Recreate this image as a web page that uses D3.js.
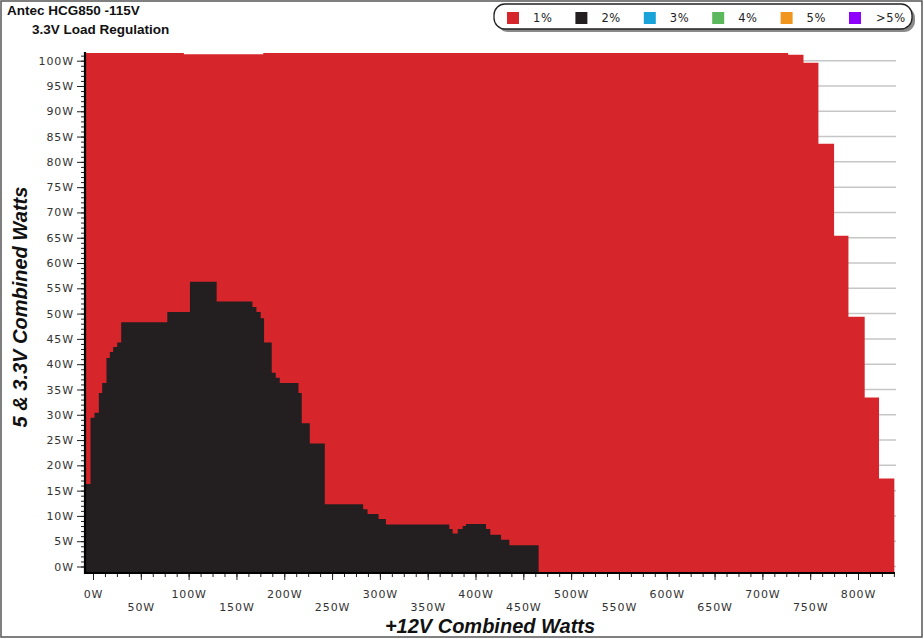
<!DOCTYPE html>
<html>
<head>
<meta charset="utf-8">
<script src="https://cdn.jsdelivr.net/npm/d3@7/dist/d3.min.js"></script>
<style>
  html, body { margin: 0; padding: 0; background: #fff; }
  svg { display: block; }
</style>
</head>
<body>
<svg id="chart" width="924" height="639"></svg>
<script>
// ---------------- DATA ----------------
const titleLines = ["Antec HCG850 -115V", "3.3V Load Regulation"];
const legendLabels = ["1%", "2%", "3%", "4%", "5%", ">5%"];
const legendColors = ["#d7262b", "#231f20", "#1aa3d9", "#5cb85c", "#f0961e", "#9000ff"];

// Upper boundary of the 1% region (step starts: +12V watts, 5&3.3V watts)
const redX = [-8, 95, 178, 727, 743, 758.6, 775, 790, 807, 822, 838];
const redY = [101.5, 101.3, 101.5, 101.2, 99.6, 83.6, 65.4, 49.4, 33.4, 17.4, 17.4];

// Upper boundary of the 2% region
const blackX = [-8, -2.6, 1.6, 6.1, 9.6, 14.1, 17.6, 21.1, 25.3, 29.5, 77.7, 101.4, 129.3,
  166.7, 170.9, 175.4, 178.9, 186.9, 191.1, 195.3, 214.9, 218.3, 226.7, 242.4, 282.5, 287.1,
  298.6, 306.3, 372.6, 376.1, 381.4, 386.6, 390, 411, 415.5, 426.7, 435.4, 466];
const blackY = [16.3, 29.4, 30.4, 34.3, 36.3, 41.2, 42.4, 43.4, 44.3, 48.3, 50.3, 56.3, 52.4,
  51.3, 50.3, 49.1, 44.3, 38.3, 37.3, 36.3, 34.3, 28.3, 24.3, 12.3, 11.3, 10.4,
  9.4, 8.3, 7.4, 6.5, 7.4, 8.0, 8.4, 7.4, 6.3, 5.3, 4.2, 4.2];

const yTickValues = d3.range(0, 101, 5);
const xTickValues = d3.range(0, 801, 50);
const yLabel = "5 & 3.3V Combined Watts";
const xLabel = "+12V Combined Watts";

// ---------------- LAYOUT ----------------
const plot = { left: 85, right: 895, top: 52, bottom: 573 };
const svg = d3.select("#chart");

const x = d3.scaleLinear().domain([0, 800]).range([93, 858]);
const y = d3.scaleLinear().domain([0, 100]).range([566.5, 60.7]);

// outer frame
svg.append("rect").attr("x", 1).attr("y", 1).attr("width", 921).attr("height", 636)
  .attr("fill", "#fff").attr("stroke", "#555").attr("stroke-width", 1.5);

// title
svg.append("text").attr("x", 7).attr("y", 15).text(titleLines[0])
  .attr("font-family", "Liberation Sans, Arial, sans-serif").attr("font-weight", "bold")
  .attr("font-size", 13.5).attr("fill", "#111");
svg.append("text").attr("x", 32).attr("y", 34).text(titleLines[1])
  .attr("font-family", "Liberation Sans, Arial, sans-serif").attr("font-weight", "bold")
  .attr("font-size", 13.5).attr("fill", "#111");

// grid lines
svg.append("g").selectAll("line").data(yTickValues).join("line")
  .attr("x1", plot.left).attr("x2", plot.right + 1)
  .attr("y1", d => y(d)).attr("y2", d => y(d))
  .attr("stroke", "#c6c6c6").attr("stroke-width", 1.5);

// regions
const yBase = y.invert(plot.bottom - 0.5);
const area = d3.area()
  .x(d => x(d[0]))
  .y0(y(yBase))
  .y1(d => y(d[1]))
  .curve(d3.curveStepAfter);

svg.append("path").datum(d3.zip(redX, redY)).attr("d", area).attr("fill", legendColors[0]);
svg.append("path").datum(d3.zip(blackX, blackY)).attr("d", area).attr("fill", legendColors[1]);

// ---------------- AXES ----------------
const tickFont = "DejaVu Sans, Verdana, sans-serif";

// Y minor ticks
svg.append("g").attr("transform", `translate(${plot.left - 1},0)`)
  .call(d3.axisLeft(y).tickValues(d3.range(0, 102, 1)).tickSize(3).tickFormat(""))
  .call(g => g.select(".domain").remove())
  .call(g => g.selectAll("line").attr("stroke", "#222").attr("stroke-width", 1));

// Y major ticks
svg.append("g").attr("transform", `translate(${plot.left - 1},0)`)
  .call(d3.axisLeft(y).tickValues(yTickValues).tickSize(7).tickPadding(3).tickFormat(d => d + "W"))
  .call(g => g.select(".domain").remove())
  .call(g => g.selectAll("line").attr("stroke", "#222").attr("stroke-width", 1))
  .call(g => g.selectAll("text").attr("font-family", tickFont).attr("font-size", 11)
    .attr("letter-spacing", "0.9px").attr("fill", "#333"));

// X minor ticks
svg.append("g").attr("transform", `translate(0,${plot.bottom})`)
  .call(d3.axisBottom(x).tickValues(d3.range(0, 838, 12.5)).tickSize(4).tickFormat(""))
  .call(g => g.select(".domain").remove())
  .call(g => g.selectAll("line").attr("stroke", "#222").attr("stroke-width", 1));

// X major ticks
svg.append("g").attr("transform", `translate(0,${plot.bottom})`)
  .call(d3.axisBottom(x).tickValues(xTickValues).tickSize(7).tickFormat(d => d + "W"))
  .call(g => g.select(".domain").remove())
  .call(g => g.selectAll("line").attr("stroke", "#222").attr("stroke-width", 1))
  .call(g => g.selectAll("text").attr("font-family", tickFont).attr("font-size", 11)
    .attr("letter-spacing", "0.9px").attr("fill", "#333")
    .attr("dy", null)
    .attr("y", d => (d % 100 === 0) ? 24.5 : 38));

// axis lines
svg.append("line").attr("x1", plot.left).attr("x2", plot.left)
  .attr("y1", plot.top).attr("y2", plot.bottom + 1)
  .attr("stroke", "#000").attr("stroke-width", 2.2);
svg.append("line").attr("x1", plot.left - 1).attr("x2", plot.right)
  .attr("y1", plot.bottom).attr("y2", plot.bottom)
  .attr("stroke", "#000").attr("stroke-width", 2.2);

// axis titles
svg.append("text").attr("transform", "translate(27,307) rotate(-90)")
  .attr("text-anchor", "middle").text(yLabel)
  .attr("font-family", "Liberation Sans, Arial, sans-serif").attr("font-weight", "bold")
  .attr("font-style", "italic").attr("font-size", 20).attr("fill", "#111");
svg.append("text").attr("x", 490).attr("y", 633)
  .attr("text-anchor", "middle").text(xLabel)
  .attr("font-family", "Liberation Sans, Arial, sans-serif").attr("font-weight", "bold")
  .attr("font-style", "italic").attr("font-size", 20).attr("fill", "#111");

// ---------------- LEGEND ----------------
const lg = svg.append("g");
lg.append("rect").attr("x", 497).attr("y", 7).attr("width", 418).attr("height", 25)
  .attr("rx", 11).attr("fill", "#8a8a8a");
lg.append("rect").attr("x", 494).attr("y", 4).attr("width", 418).attr("height", 25)
  .attr("rx", 11).attr("fill", "#fff").attr("stroke", "#222").attr("stroke-width", 1.3);
const items = lg.selectAll("g.item").data(legendLabels).join("g")
  .attr("transform", (d, i) => `translate(${507 + i * 68.4},0)`);
items.append("rect").attr("x", 0).attr("y", 12).attr("width", 12).attr("height", 12)
  .attr("fill", (d, i) => legendColors[i]);
items.append("text").attr("x", (d, i) => i === 5 ? 27 : 26).attr("y", 22).text(d => d)
  .attr("font-family", tickFont).attr("font-size", 11.5).attr("letter-spacing", "0.6px")
  .attr("fill", "#222");
</script>
</body>
</html>
